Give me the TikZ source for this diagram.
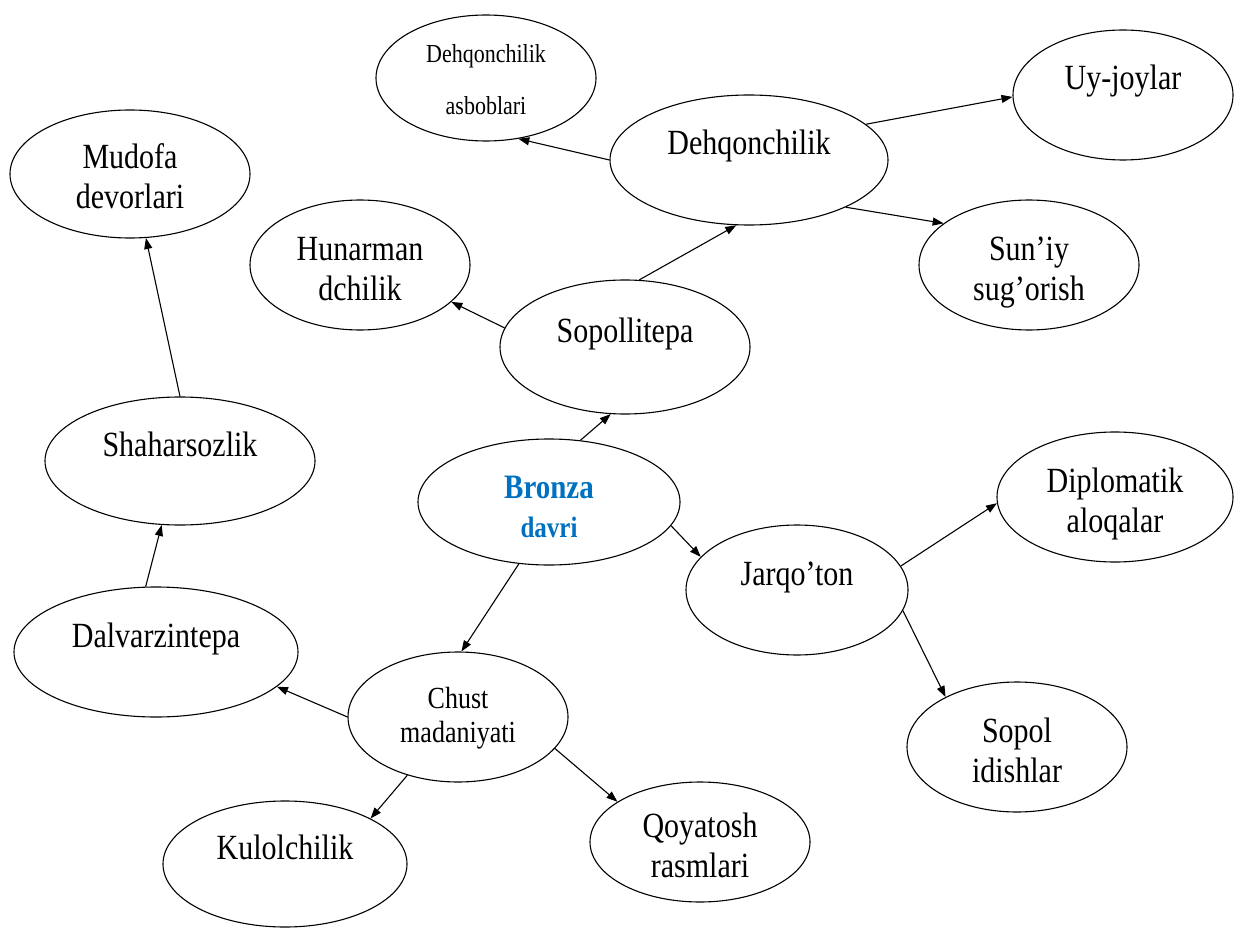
\documentclass[tikz,border=0pt]{standalone}
\usepackage{fontspec}
\setmainfont{Liberation Serif}
\usetikzlibrary{shapes.geometric,arrows.meta}
\definecolor{bronzablue}{RGB}{0,112,192}
\newcommand{\tall}[1]{\scalebox{1}[1.18]{#1}}
\newcommand{\twolines}[2]{\begin{tabular}[t]{@{}c@{}}\tall{#1}\\\tall{#2}\end{tabular}}

\begin{document}
\begin{tikzpicture}[x=1pt,y=-1pt,>={Triangle[length=11pt,width=8pt]},
    bubble/.style={ellipse,draw,line width=1.1pt,inner sep=0pt,
      font=\fontsize{30}{40}\selectfont,text height=20pt,text depth=30pt},
    esize/.style 2 args={minimum width=#1pt,minimum height=#2pt}]
    \useasboundingbox (0,0) rectangle (1245,928);
    % markaz
    \node[bubble,esize={262}{126},text=bronzablue,
      font=\fontsize{29}{39}\selectfont\bfseries,text depth=28pt]
      (bronza) at (549,502) {\twolines{Bronza}{\fontsize{25}{39}\selectfont davri}};
    % yuqori tarmoq
    \node[bubble,esize={250}{134}] (sop) at (625,347) {\tall{Sopollitepa}};
    \node[bubble,esize={220}{130}] (hun) at (360,265) {\twolines{Hunarman}{dchilik}};
    \node[bubble,esize={278}{130}] (dehq) at (749,160) {\tall{Dehqonchilik}};
    \node[bubble,esize={220}{126},font=\fontsize{22}{52}\selectfont,
      text height=16pt,text depth=46pt] (asb) at (486,78) {\twolines{Dehqonchilik}{asboblari}};
    \node[bubble,esize={220}{130}] (uy) at (1123,95) {\tall{Uy-joylar}};
    \node[bubble,esize={220}{130}] (sun) at (1029,265) {\twolines{Sun’iy}{sug’orish}};
    % chap tarmoq
    \node[bubble,esize={240}{128}] (mud) at (130,174) {\twolines{Mudofa}{devorlari}};
    \node[bubble,esize={270}{128}] (shah) at (180,461) {\tall{Shaharsozlik}};
    \node[bubble,esize={284}{130}] (dal) at (156,652) {\tall{Dalvarzintepa}};
    \node[bubble,esize={220}{130},font=\fontsize{26}{34}\selectfont,
      text height=18pt,text depth=36pt] (chust) at (458,717) {\twolines{Chust}{madaniyati}};
    \node[bubble,esize={244}{126}] (kul) at (285,864) {\tall{Kulolchilik}};
    \node[bubble,esize={220}{120}] (qoy) at (700,842) {\twolines{Qoyatosh}{rasmlari}};
    % o'ng tarmoq
    \node[bubble,esize={222}{130}] (jarq) at (797,590) {\tall{Jarqo’ton}};
    \node[bubble,esize={236}{130}] (dip) at (1115,497) {\twolines{Diplomatik}{aloqalar}};
    \node[bubble,esize={220}{130}] (sopol) at (1017,747) {\twolines{Sopol}{idishlar}};
    % strelkalar
    \foreach \from/\to in {bronza.63/sop.258, sop.171/hun.338, sop.78/dehq.259,
        dehq.180/asb.298, dehq.17/uy.181, dehq.334/sun.154,
        bronza.349/jarq.161, jarq.13/dip.183, jarq.349/sopol.145,
        bronza.244/chust.87, chust.180/dal.344, chust.229/kul.28,
        chust.342/qoy.154, dal.99/shah.254, shah.90/mud.284}
      \draw[->,line width=1.1pt] (\from) -- (\to);
\end{tikzpicture}
\end{document}
